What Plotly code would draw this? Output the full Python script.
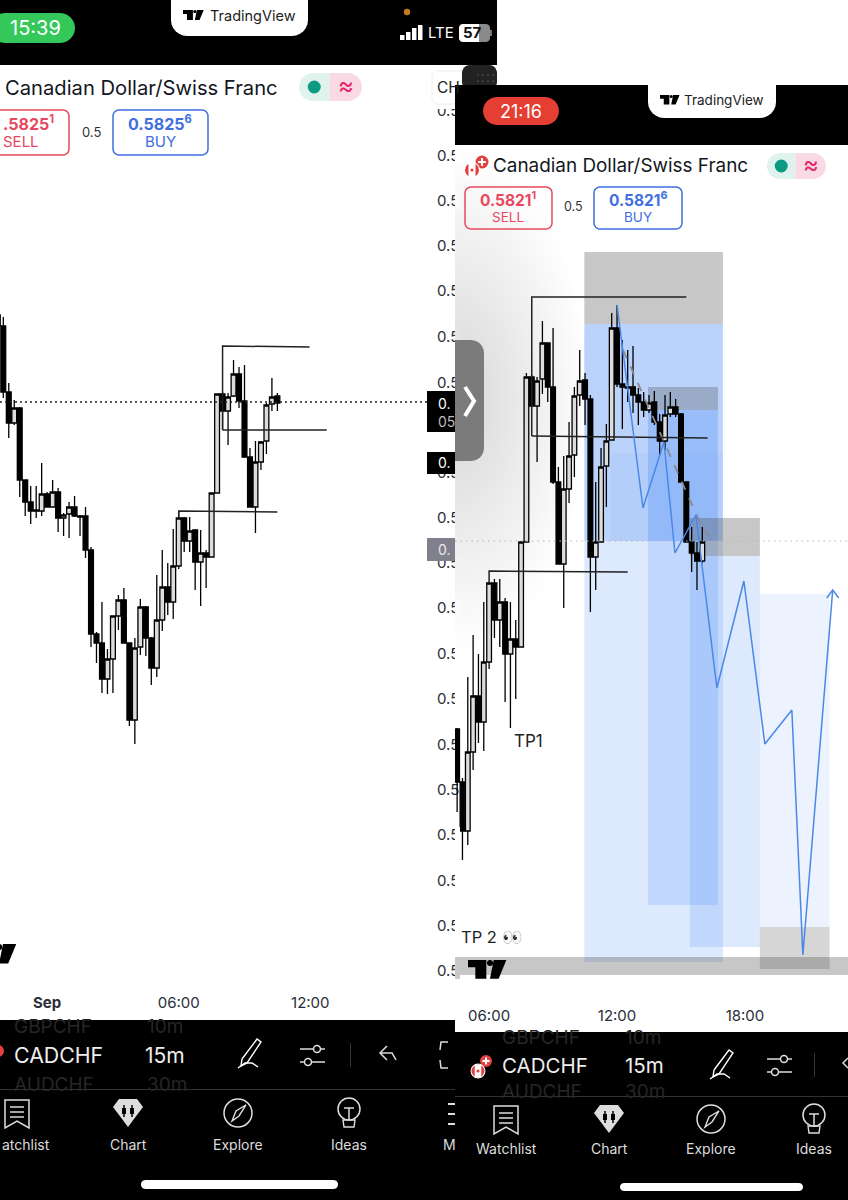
import numpy as np
import pandas as pd
import plotly.graph_objects as go

W, H = 848, 1200

# ---------- data (prices in 1e-5 CHF) ----------
L_START = "2023-08-31 21:45"
L_OPEN = [58338,58327,58261,58230,58245,58173,58151,58142,58142,58159,58146,58161,58135,58139,58146,58137,58137,58103,58019,58010,57974,57994,58037,58053,58010,57933,58006,58046,58015,57985,58033,58066,58051,58087,58135,58112,58123,58091,58100,58096,58160,58259,58242,58257,58279,58252,58196,58146,58191,58212,58249,58257]
L_HIGH = [58340,58336,58270,58253,58246,58173,58167,58167,58190,58161,58173,58165,58140,58151,58157,58138,58146,58106,58021,58051,58004,58037,58058,58065,58010,58015,58054,58047,58016,58078,58103,58090,58124,58142,58136,58136,58124,58123,58103,58160,58259,58261,58260,58293,58286,58288,58205,58212,58212,58250,58275,58260]
L_LOW = [58325,58255,58215,58228,58156,58137,58129,58135,58137,58146,58146,58121,58117,58115,58136,58117,58095,58006,57990,57960,57959,57960,58023,58010,57927,57909,57998,57997,57968,57976,58022,58038,58034,58084,58101,58101,58063,58047,58065,58096,58160,58223,58208,58256,58245,58195,58146,58120,58183,58199,58242,58242]
L_CLOSE = [58327,58261,58230,58245,58173,58151,58142,58143,58159,58146,58161,58135,58138,58146,58137,58136,58103,58019,58010,57974,57994,58037,58053,58010,57933,58005,58046,58015,57985,58033,58066,58051,58087,58135,58112,58122,58091,58100,58096,58160,58259,58242,58256,58279,58252,58196,58146,58191,58211,58248,58256,58250]
L_LAST = 58251
L_LEVEL1_T = ["2023-09-01 08:00","2023-09-01 08:00","2023-09-01 11:58"]
L_LEVEL1_P = [58223,58307,58306]
L_LEVEL2_T = ["2023-09-01 08:00","2023-09-01 12:45"]
L_LEVEL2_P = [58223,58223]
L_LEVEL3_T = ["2023-09-01 06:00","2023-09-01 06:00","2023-09-01 10:30"]
L_LEVEL3_P = [58135,58142,58141]
L_TICK_P = [58542,58497,58452,58407,58362,58316,58270,58180,58135,58090,58045,57999,57954,57908,57863,57818,57772,57727,57682]
L_TICK_T = ["0.5"] * 19

R_START = "2023-09-04 04:30"
R_OPEN = [58023,57970,57921,58000,58056,58030,58090,58169,58132,58150,58098,58113,58105,58210,58375,58346,58373,58409,58365,58270,58188,58263,58297,58357,58372,58353,58195,58210,58286,58312,58424,58368,58365,58365,58357,58350,58342,58350,58330,58311,58338,58345,58338,58270,58210,58199,58191]
R_HIGH = [58024,57974,58075,58117,58098,58150,58169,58173,58173,58154,58150,58132,58211,58379,58377,58375,58431,58409,58424,58285,58296,58330,58365,58402,58379,58357,58270,58304,58328,58439,58447,58412,58402,58406,58364,58360,58357,58361,58338,58357,58360,58353,58339,58270,58225,58210,58225]
R_LOW = [57940,57892,57907,57982,58009,58001,58083,58114,58105,58050,58024,58053,58105,58210,58345,58290,58358,58350,58268,58188,58144,58249,58275,58346,58327,58140,58162,58210,58245,58312,58365,58323,58350,58339,58327,58335,58339,58327,58297,58302,58335,58335,58270,58210,58180,58162,58189]
R_CLOSE = [57970,57921,58000,58056,58030,58090,58169,58132,58150,58098,58113,58105,58210,58375,58346,58371,58409,58365,58270,58188,58263,58296,58356,58371,58353,58195,58210,58285,58311,58424,58368,58365,58364,58357,58350,58342,58349,58330,58311,58337,58345,58338,58270,58210,58199,58191,58210]
R_LAST = 58211
D = "2023-09-04 "
R_LEVEL1_T = [D+"08:00", D+"08:00", D+"15:15"]
R_LEVEL1_P = [58316,58455,58455]
R_LEVEL2_T = [D+"08:00", D+"16:15"]
R_LEVEL2_P = [58316,58314]
R_LEVEL3_T = [D+"06:00", D+"06:00", D+"12:30"]
R_LEVEL3_P = [58169,58181,58180]
PATH_T = [D+t for t in ["12:00","13:13","14:12","14:43","15:42","16:41","17:57","18:56","20:12","20:43","22:07"]]
PATH_P = [58447,58244,58310,58199,58237,58064,58171,58008,58042,57797,58162]
ARROW_T = [D+"21:50", D+"22:07", D+"22:24"]
ARROW_P = [58154,58162,58154]
DASH_T = [D+"12:17", D+"14:12", D+"15:59", D+"16:20"]
DASH_P = [58402,58310,58225,58216]

GREY, BLUE = "grey", "blue"
ZONE_T0 = ["10:28","10:28","11:43","10:28","13:27","13:27","13:27","15:25","15:25","18:42","18:42","04:24"]
ZONE_T1 = ["16:58","16:58","16:58","16:58","16:44","16:44","16:44","18:42","18:42","21:58","21:58","22:50"]
ZONE_LO = [58428,58211,58211,57790,58342,58211,57847,58196,57805,57825,57783,57777]
ZONE_HI = [58500,58428,58299,58211,58365,58342,58211,58234,58196,58158,57825,57795]
ZONE_KIND = [GREY,BLUE,BLUE,BLUE,GREY,BLUE,BLUE,GREY,BLUE,BLUE,GREY,GREY]
ZONE_ALPHA = [.30,.36,.06,.18,.28,.28,.18,.30,.18,.10,.22,.30]

pr = lambda v: np.asarray(v) / 1e5

# ---------- chrome helpers (image pixels -> paper) ----------
px = lambda x: x / W
py = lambda y: 1 - y / H
shapes, notes = [], []

def rect(x0, y0, x1, y1, fill, layer="above", line=None, lw=1):
    shapes.append(dict(type="rect", xref="paper", yref="paper", x0=px(x0), x1=px(x1), y0=py(y0), y1=py(y1),
                       fillcolor=fill, line=dict(color=line or "rgba(0,0,0,0)", width=lw if line else 0), layer=layer))

def poly(pts, fill=None, line=None, lw=1.5, closed=True, layer="above"):
    d = "M " + " L ".join(f"{px(a):.5f} {py(b):.5f}" for a, b in pts) + (" Z" if closed else "")
    shapes.append(dict(type="path", xref="paper", yref="paper", path=d, fillcolor=fill or "rgba(0,0,0,0)",
                       line=dict(color=line or "rgba(0,0,0,0)", width=lw if line else 0), layer=layer))

def round_rect(x0, y0, x1, y1, r, fill=None, line=None, lw=1.5, layer="above", corners=(1, 1, 1, 1)):
    pts = []
    t = np.linspace(0, np.pi / 2, 7)
    defs = [(x1 - r, y0 + r, -np.pi / 2, corners[1], (x1, y0)),
            (x1 - r, y1 - r, 0, corners[2], (x1, y1)),
            (x0 + r, y1 - r, np.pi / 2, corners[3], (x0, y1)),
            (x0 + r, y0 + r, np.pi, corners[0], (x0, y0))]
    for cx, cy, a0, on, c in defs:
        if on:
            pts += [(cx + r * np.cos(a0 + s), cy + r * np.sin(a0 + s)) for s in t]
        else:
            pts.append(c)
    poly(pts, fill, line, lw, True, layer)

def circle(cx, cy, r, fill=None, line=None, lw=1.5):
    shapes.append(dict(type="circle", xref="paper", yref="paper", x0=px(cx - r), x1=px(cx + r), y0=py(cy + r), y1=py(cy - r),
                       fillcolor=fill or "rgba(0,0,0,0)", line=dict(color=line or "rgba(0,0,0,0)", width=lw if line else 0), layer="above"))

def text(x, y, s, size=14, color="#131722", anchor="center", font="Inter"):
    notes.append(dict(xref="paper", yref="paper", x=px(x), y=py(y), text=s, showarrow=False, xanchor=anchor, yanchor="middle",
                      font=dict(size=size, color=color, family=font), borderpad=0, borderwidth=0))

def tv_logo(x, y, s, color="#000"):
    poly([(x, y), (x + 55 * s, y), (x + 55 * s, y + 56 * s), (x + 22 * s, y + 56 * s), (x + 22 * s, y + 22 * s), (x, y + 22 * s)], fill=color)
    circle(x + 66 * s, y + 9 * s, 9 * s, fill=color)
    poly([(x + 77 * s, y), (x + 115 * s, y), (x + 92 * s, y + 56 * s), (x + 66 * s, y + 56 * s)], fill=color)

def pen(x, y):
    poly([(x + 6, y + 20), (x + 21, y), (x + 25, y + 3), (x + 11, y + 24), (x + 5, y + 27), (x + 6, y + 20)], line="#fff", lw=1.4, closed=False)
    poly([(x + 2, y + 29), (x + 9, y + 24), (x + 16, y + 24), (x + 22, y + 28)], line="#fff", lw=1.4, closed=False)

def sliders(x, y):
    poly([(x, y + 5), (x + 25, y + 5)], line="#ddd", closed=False)
    poly([(x, y + 18), (x + 25, y + 18)], line="#ddd", closed=False)
    circle(x + 17, y + 5, 3.5, fill="#000", line="#ddd")
    circle(x + 8, y + 18, 3.5, fill="#000", line="#ddd")

def watch_icon(cx, y):
    poly([(cx - 12, y), (cx + 12, y), (cx + 12, y + 28), (cx, y + 21), (cx - 12, y + 28)], line="#ddd", lw=1.5)
    for d in (7, 12, 17):
        poly([(cx - 7, y + d), (cx + 7, y + d)], line="#ddd", closed=False)

def chart_icon(cx, y):
    poly([(cx - 15, y + 8), (cx - 9, y), (cx + 9, y), (cx + 15, y + 8), (cx, y + 28)], fill="#ddd")
    for dx in (-4, 4):
        poly([(cx + dx, y + 6), (cx + dx, y + 18)], line="#000", closed=False)
        rect(cx + dx - 2, y + 9, cx + dx + 2, y + 15, "#000")

def explore_icon(cx, cy):
    circle(cx, cy, 14, line="#ddd")
    poly([(cx + 8, cy - 8), (cx + 1, cy + 3), (cx - 6, cy + 8), (cx - 2, cy - 2)], line="#ddd", lw=1.4)

def ideas_icon(cx, cy):
    circle(cx, cy, 11, line="#ddd")
    poly([(cx - 5, cy - 1), (cx + 5, cy - 1)], line="#ddd", closed=False)
    poly([(cx, cy - 1), (cx, cy + 10)], line="#ddd", closed=False)
    poly([(cx - 6, cy + 11), (cx + 6, cy + 11), (cx + 5, cy + 18), (cx - 5, cy + 18)], line="#ddd", lw=1.4)

def status_pill(x0, x1, y0, y1):
    mid = (x0 + x1) / 2 - 1
    round_rect(x0, y0, mid, y1, (y1 - y0) / 2, fill="#dff2ee", corners=(1, 0, 0, 1))
    round_rect(mid, y0, x1, y1, (y1 - y0) / 2, fill="#f8d9e4", corners=(0, 1, 1, 0))
    circle((x0 + mid) / 2, (y0 + y1) / 2, 6.5, fill="#0e9a82")
    text((mid + x1) / 2, (y0 + y1) / 2 - 1, "≈", 24, "#e6266e")

def flags(xa, ya, ra, xb, yb, rb):
    circle(xb, yb, rb, fill="#e2413f")
    rect(xb - 1, yb - rb * .6, xb + 1, yb + rb * .6, "#fff")
    rect(xb - rb * .6, yb - 1, xb + rb * .6, yb + 1, "#fff")
    circle(xa, ya, ra + 1, fill="#fff")
    circle(xa, ya, ra, fill="#e2413f")
    rect(xa - ra * .5, ya - ra, xa + ra * .5, ya + ra, "#fff")
    circle(xa, ya, 1.6, fill="#e2413f")

# ---------- pane backgrounds (under the traces) ----------
rect(0, 65, 455, 1020, "#fff", layer="below")
rect(455, 145, 848, 1032, "#fff", layer="below")
for i in range(40):
    k = 1 - i / 40
    t = np.linspace(-np.pi / 2, np.pi / 2, 30)
    poly([(455 + 135 * k * np.cos(a), 400 + 250 * k * np.sin(a)) for a in t], fill="rgba(0,0,0,0.0036)", layer="below")

# ---------- clip the cut-off axis labels at the edge of the right phone ----------
for row, col in [(156, "#fff"), (201, "#fbfbfb"), (246, "#f0f0f0"), (291, "#e8e8e8"), (337, "#e4e4e4"), (383, "#ddd"),
                 (473, "#e2e2e2"), (518, "#e9e9e9"), (563, "#f1f1f1"), (608, "#fbfbfb"), (654, "#fff"), (699, "#fff"),
                 (835, "#fff"), (881, "#fff"), (926, "#fff"), (971, "#c8c8c8")]:
    rect(455, row - 8, 460, row + 8, col)

# ---------- top of left phone ----------
rect(0, 0, 497, 65, "#000")
rect(497, 0, 498, 65, "#bbb")
round_rect(-10, 13, 75, 43, 15, fill="#34c759")
text(35, 28, "15:39", 20, "#fff")
round_rect(171, -20, 308, 36, 16, fill="#fff")
tv_logo(183, 10, .18)
text(253, 16, "TradingView", 14.5, "#222")
circle(407, 12, 3.2, fill="#c77a1b")
for i, h_ in enumerate([5, 8, 12, 15]):
    rect(400 + i * 6, 40 - h_, 404.5 + i * 6, 40, "#fff")
text(441, 33, "LTE", 15, "#fff")
round_rect(459, 24, 490, 42, 4, fill="#8a8a8a")
round_rect(459, 24, 479, 42, 4, fill="#fff", corners=(1, 0, 0, 1))
text(473, 33, "<b>57</b>", 15, "#111", font="Inter")
rect(490, 30, 492, 36, "#777")
text(5, 87, "Canadian Dollar/Swiss Franc", 20.2, "#131722", "left")
status_pill(299, 362, 73, 101)
round_rect(-10, 110, 69, 155, 6, line="#e8485f")
text(28, 123, "<b>.5825<sup>1</sup></b>", 16, "#e8485f")
text(21, 142, "SELL", 15, "#e8485f")
text(91, 132, "0.5", 13, "#333")
round_rect(113, 110, 208, 155, 6, line="#3f6fe0")
text(160, 123, "<b>0.5825<sup>6</sup></b>", 16, "#3f6fe0")
text(160, 142, "BUY", 15, "#3f6fe0")
rect(432, 100, 455, 109, "#fff")
round_rect(432, 71, 470, 104, 5, fill="#fff", line="#eee", lw=1)
text(437, 87, "CH", 15.5, "#222", "left")
round_rect(462, 65, 497, 90, 8, fill="#222")
for a in range(4):
    for b in range(2):
        circle(478 + a * 5, 75 + b * 6, .7, fill="#666")
rect(455, 85, 848, 145, "#000")
rect(497, 0, 848, 85, "#fff")

# ---------- top of right phone ----------
round_rect(483, 97, 559, 125, 14, fill="#e53e32")
text(521, 111, "21:16", 18, "#fff")
round_rect(648, 70, 776, 118, 16, fill="#fff")
tv_logo(660, 95, .17)
text(724, 100, "TradingView", 13.5, "#222")
flags(472, 170, 7, 482, 162, 6.5)
text(493, 166, "Canadian Dollar/Swiss Franc", 18.9, "#131722", "left")
status_pill(767, 826, 153, 179)
round_rect(465, 187, 552, 229, 6, line="#e8485f")
text(508, 199, "<b>0.5821<sup>1</sup></b>", 15.5, "#e8485f")
text(508, 217, "SELL", 13.5, "#e8485f")
text(573, 207, "0.5", 12.5, "#333")
round_rect(594, 187, 682, 229, 6, line="#3f6fe0")
text(638, 199, "<b>0.5821<sup>6</sup></b>", 15.5, "#3f6fe0")
text(638, 217, "BUY", 13.5, "#3f6fe0")

# handle and price tags
round_rect(455, 340, 484, 461, 13, fill="#7b7b7b", corners=(0, 1, 1, 0))
poly([(465, 387), (474, 401), (465, 416)], line="#fff", lw=4, closed=False)
rect(427, 391, 455, 432, "#000")
text(438, 403, "0.", 14, "#fff", "left")
text(438, 421, "05", 14, "#bbb", "left")
rect(427, 452, 455, 474, "#000")
text(438, 463, "0.", 14, "#fff", "left")
rect(427, 538, 455, 561, "#80808c")
text(438, 550, "0.", 14, "#e8e8e8", "left")

text(514, 741, "TP1", 17, "#222", "left")
text(461, 937, "TP 2 👀", 16.5, "#222", "left")
tv_logo(468, 960, 1 / 3)
tv_logo(-24, 944, .35)

# ---------- bottom bars ----------
rect(0, 1020, 455, 1200, "#000")
rect(455, 1032, 848, 1200, "#000")
rect(0, 1089, 455, 1090, "#333")
rect(455, 1096, 848, 1097, "#333")
circle(-2, 1051, 6, fill="#e2413f")
ghost = "#262626"
text(14, 1026, "GBPCHF", 19, ghost, "left"); text(147, 1026, "10m", 19, ghost, "left")
text(14, 1084, "AUDCHF", 19, ghost, "left"); text(147, 1084, "30m", 19, ghost, "left")
text(14, 1055, "CADCHF", 21.3, "#eee", "left"); text(145, 1055, "15m", 21, "#eee", "left")
pen(236, 1039)
sliders(300, 1044)
rect(350, 1043, 351, 1067, "#333")
poly([(387, 1046), (380, 1053), (387, 1060)], line="#ddd", closed=False)
poly([(381, 1053), (392, 1053), (396, 1060)], line="#ddd", closed=False)
poly([(448, 1042), (441, 1042), (440, 1050)], line="#ddd", closed=False)
poly([(440, 1060), (441, 1068), (448, 1068)], line="#ddd", closed=False)
watch_icon(17, 1100); chart_icon(128, 1099); explore_icon(238, 1113); ideas_icon(349, 1109)
text(50, 1144, "atchlist", 14, "#ddd", "right"); text(128, 1144, "Chart", 14, "#ddd")
text(238, 1144, "Explore", 14, "#ddd"); text(349, 1144, "Ideas", 14, "#ddd")
text(443, 1144, "M", 14, "#ddd", "left")
for d in (1103, 1113, 1123):
    rect(448, d, 455, d + 2, "#ddd")
round_rect(141, 1180, 338, 1189, 4.5, fill="#fff")

flags(478, 1071, 6.5, 486, 1061, 6)
text(502, 1037, "GBPCHF", 19, ghost, "left"); text(625, 1037, "10m", 19, ghost, "left")
text(502, 1091, "AUDCHF", 19, ghost, "left"); text(625, 1091, "30m", 19, ghost, "left")
text(502, 1065, "CADCHF", 20.5, "#eee", "left"); text(625, 1065, "15m", 20.5, "#eee", "left")
pen(708, 1050)
sliders(767, 1054)
rect(814, 1053, 815, 1077, "#333")
poly([(848, 1058), (843, 1063), (848, 1068)], line="#ddd", closed=False)
watch_icon(506, 1106); chart_icon(609, 1105); explore_icon(711, 1119); ideas_icon(814, 1115)
text(506, 1148, "Watchlist", 14, "#ddd"); text(609, 1148, "Chart", 14, "#ddd")
text(711, 1148, "Explore", 14, "#ddd"); text(814, 1148, "Ideas", 14, "#ddd")
round_rect(620, 1183, 803, 1191, 4, fill="#fff")

# ---------- zones on the right chart ----------
for t0, t1, lo, hi, kind, a in zip(ZONE_T0, ZONE_T1, ZONE_LO, ZONE_HI, ZONE_KIND, ZONE_ALPHA):
    col = f"rgba(70,70,70,{a})" if kind == GREY else f"rgba(66,133,244,{a})"
    shapes.append(dict(type="rect", xref="x2", yref="y2", x0=D + t0, x1=D + t1, y0=lo / 1e5, y1=hi / 1e5,
                       fillcolor=col, line=dict(width=0), layer="below"))

# ---------- traces ----------
fig = go.Figure()
candle_style = dict(increasing=dict(fillcolor="#dcdcdc", line=dict(color="#000", width=1.3)),
                    decreasing=dict(fillcolor="#000", line=dict(color="#000", width=1.3)),
                    whiskerwidth=0, showlegend=False, hoverinfo="skip")
line_style = dict(mode="lines", showlegend=False, hoverinfo="skip")
times_l = pd.date_range(L_START, periods=len(L_OPEN), freq="15min")
times_r = pd.date_range(R_START, periods=len(R_OPEN), freq="15min")

fig.add_trace(go.Candlestick(x=times_l, open=pr(L_OPEN), high=pr(L_HIGH), low=pr(L_LOW), close=pr(L_CLOSE), xaxis="x", yaxis="y", **candle_style))
for t_, p_ in [(L_LEVEL1_T, L_LEVEL1_P), (L_LEVEL2_T, L_LEVEL2_P), (L_LEVEL3_T, L_LEVEL3_P)]:
    fig.add_trace(go.Scatter(x=t_, y=pr(p_), line=dict(color="#222", width=1.5), xaxis="x", yaxis="y", **line_style))
fig.add_trace(go.Scatter(x=["2023-08-31 21:51", "2023-09-01 17:38"], y=pr([L_LAST, L_LAST]), line=dict(color="#222", width=1.4, dash="2px,3px"), xaxis="x", yaxis="y", **line_style))

fig.add_trace(go.Scatter(x=[D + "04:24", D + "22:50"], y=pr([R_LAST, R_LAST]), line=dict(color="#b5b5b5", width=1, dash="1.5px,4px"), xaxis="x2", yaxis="y2", **line_style))
fig.add_trace(go.Scatter(x=DASH_T, y=pr(DASH_P), line=dict(color="#8a8a8a", width=1.8, dash="dash"), xaxis="x2", yaxis="y2", **line_style))
fig.add_trace(go.Candlestick(x=times_r, open=pr(R_OPEN), high=pr(R_HIGH), low=pr(R_LOW), close=pr(R_CLOSE), xaxis="x2", yaxis="y2", **candle_style))
for t_, p_ in [(R_LEVEL1_T, R_LEVEL1_P), (R_LEVEL2_T, R_LEVEL2_P), (R_LEVEL3_T, R_LEVEL3_P)]:
    fig.add_trace(go.Scatter(x=t_, y=pr(p_), line=dict(color="#222", width=1.5), xaxis="x2", yaxis="y2", **line_style))
fig.add_trace(go.Scatter(x=PATH_T, y=pr(PATH_P), line=dict(color="#4a88e8", width=1.5), xaxis="x2", yaxis="y2", **line_style))
fig.add_trace(go.Scatter(x=ARROW_T, y=pr(ARROW_P), line=dict(color="#4a88e8", width=1.5), xaxis="x2", yaxis="y2", **line_style))

tick_font = dict(size=15, color="#2a2e39", family="Inter")
fig.update_layout(
    width=W, height=H, margin=dict(l=0, r=0, t=0, b=0), autosize=False,
    paper_bgcolor="#fff", plot_bgcolor="rgba(0,0,0,0)", boxgap=0.12, boxgroupgap=0, showlegend=False,
    shapes=shapes, annotations=notes,
    xaxis=dict(domain=[0, 436 / W], range=["2023-08-31 21:51", "2023-09-01 17:44"], type="date",
               rangeslider=dict(visible=False), showgrid=False, zeroline=False, showline=False, ticks="", tickfont=tick_font,
               tickmode="array", tickvals=["2023-09-01 00:00", "2023-09-01 06:00", "2023-09-01 12:00"],
               ticktext=["<b>Sep</b>", "06:00", "12:00"], anchor="y"),
    yaxis=dict(domain=[1 - 992 / H, 1 - 65 / H], range=[0.57661, 0.58588], side="right", showgrid=False, zeroline=False,
               showline=False, ticks="", tickfont=tick_font, tickmode="array", tickvals=list(pr(L_TICK_P)), ticktext=L_TICK_T, anchor="x"),
    xaxis2=dict(domain=[455 / W, 1], range=[D + "04:24", D + "22:50"], type="date", rangeslider=dict(visible=False), showgrid=False,
                zeroline=False, showline=False, ticks="", tickfont=tick_font, tickmode="array",
                tickvals=[D + "06:00", D + "12:00", D + "18:00"], ticktext=["06:00", "12:00", "18:00"], anchor="y2"),
    yaxis2=dict(domain=[1 - 1005 / H, 1 - 145 / H], range=[0.57747, 0.58607], visible=False, anchor="x2"),
)
fig.write_html("out.html", config=dict(displayModeBar=False),
               post_script="document.body.style.margin='0';document.body.style.overflow='hidden';")
